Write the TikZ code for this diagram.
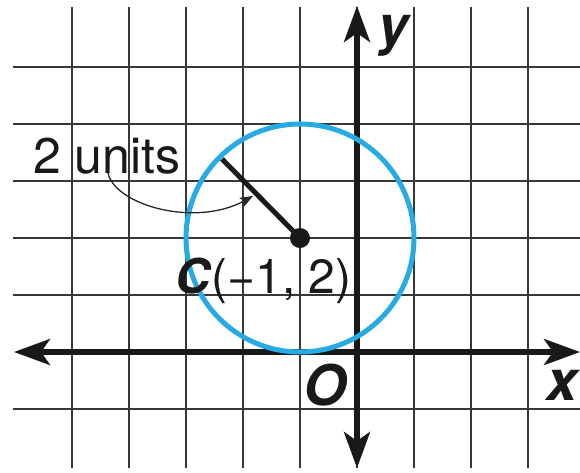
\documentclass[tikz,border=0pt]{standalone}
\usepackage{fontspec}
\setmainfont{TeX Gyre Heros}
\usetikzlibrary{arrows.meta}
\definecolor{circblue}{RGB}{40,170,226}
\definecolor{gridgray}{RGB}{55,55,55}
\begin{document}
\begin{tikzpicture}[x=1pt,y=-1pt,
  gridline/.style={gridgray,line width=1.8pt},
  axisline/.style={line width=5.5pt,black!90,
    {Stealth[length=36pt,width=26pt,inset=9pt]}-{Stealth[length=36pt,width=26pt,inset=9pt]}},
  ringline/.style={circblue,line width=5pt},
  leader/.style={black!90,line width=5pt},
  callout/.style={black!85,line width=1.3pt,-{Stealth[length=13pt,width=10pt,inset=3pt]}},
  txt/.style={anchor=base west,inner sep=0pt,text=black!90},
  axislbl/.style={txt,text height=0.7em,text depth=0.2em,font=\fontsize{56}{56}\selectfont\bfseries\itshape}]
\useasboundingbox (0,0) rectangle (580,472);
% grid
\foreach \k in {-5,...,3}{
  \draw[gridline] ({357+57*\k},7) -- ({357+57*\k},468);
}
\foreach \k in {-1,1,2,3,4,5}{
  \draw[gridline] (13,{352-57*\k}) -- (580,{352-57*\k});
}
% axes
\coordinate (xl) at (14,352);
\coordinate (xr) at (580,352);
\coordinate (yb) at (357,468);
\coordinate (yt) at (357,6);
\draw[axisline] (xl) -- (xr);
\draw[axisline] (yb) -- (yt);
% circle
\node[circle,fill=black!90,inner sep=0pt,minimum size=20pt] (C) at (300,238) {};
\draw[ringline] (C.center) circle (114);
\coordinate (L) at (222,159);
\draw[leader] (L) -- (C.center);
% labels
\node[txt,font=\fontsize{50}{50}\selectfont] (units) at (33,173) {2 units};
\coordinate (cs) at (108,173);
\coordinate (ce) at (253,196);
\draw[callout] (cs) .. controls (115,205) and (195,228) .. (ce);
\node[txt,font=\fontsize{48}{48}\selectfont] (clbl) at (175,293) {\textbf{\textit{C}}(−1, 2)};
\node[axislbl,text height=0.55em,font=\fontsize{54}{54}\selectfont\bfseries\itshape] (ylbl) at (378,44) {y};
\node[axislbl] (xlbl) at (546,400) {x};
\node[axislbl] (olbl) at (303,405) {O};
\end{tikzpicture}
\end{document}
